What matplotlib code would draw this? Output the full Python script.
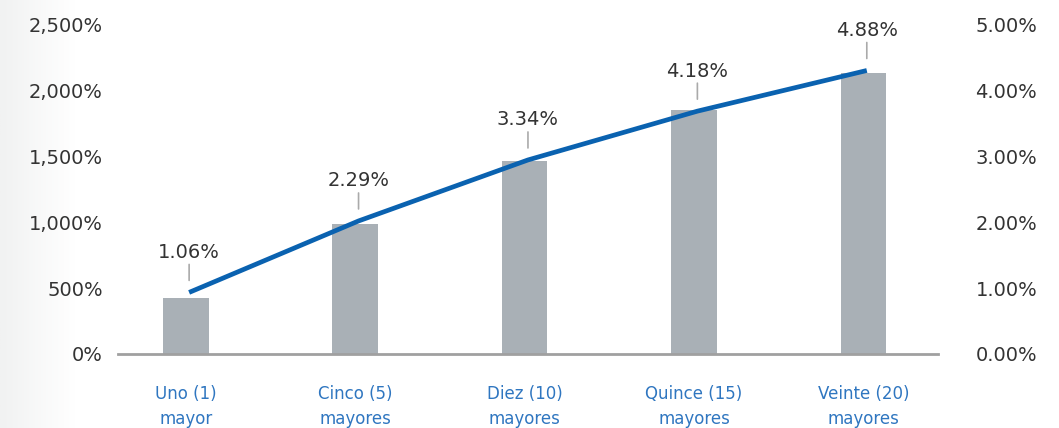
import numpy as np
import matplotlib
matplotlib.use("Agg")
import matplotlib.pyplot as plt
from matplotlib.ticker import FuncFormatter
from matplotlib.colors import LinearSegmentedColormap

categories = ["Uno (1)\nmayor", "Cinco (5)\nmayores", "Diez (10)\nmayores",
              "Quince (15)\nmayores", "Veinte (20)\nmayores"]
bar_values = [425, 985, 1465, 1850, 2130]          # left axis, %
line_values = [1.06, 2.29, 3.34, 4.18, 4.88]       # labelled line, %
left_ticks = [0, 500, 1000, 1500, 2000, 2500]
right_ticks = [0, 1, 2, 3, 4, 5]

BAR = "#a9b0b6"
LINE = "#0a62b0"
CAT = "#2f76c0"
TXT = "#333333"

fig = plt.figure(figsize=(10.59, 4.28), dpi=100)

# faint grey wash on the left edge
bg = fig.add_axes([0, 0, 1, 1], zorder=-10)
grad = np.clip(np.linspace(0, 1, 512) / 0.07, 0, 1)
bg.imshow(np.vstack([grad, grad]), aspect="auto",
          cmap=LinearSegmentedColormap.from_list("g", ["#f1f2f2", "#ffffff"]),
          extent=[0, 1, 0, 1])
bg.axis("off")

ax = fig.add_axes([0.1114, 0.1729, 0.7743, 0.771])
ax.patch.set_alpha(0)
x = np.arange(len(categories))
ax.bar(x, bar_values, width=0.27, color=BAR, zorder=2)
ax.set_xlim(-0.40, 4.44)
ax.set_ylim(0, 2500)
ax.set_yticks(left_ticks)
ax.yaxis.set_major_formatter(FuncFormatter(lambda v, p: f"{int(v):,}%"))
ax.set_xticks(x)
ax.set_xticklabels(categories, color=CAT, fontsize=12, linespacing=1.55)
ax.tick_params(axis="x", length=0, pad=22)
ax.tick_params(axis="y", length=0, pad=11, labelsize=14, labelcolor=TXT)
for s in ["top", "right", "left"]:
    ax.spines[s].set_visible(False)
ax.spines["bottom"].set_color("#a0a0a0")
ax.spines["bottom"].set_linewidth(2)

ax2 = ax.twinx()
ax2.set_ylim(0, 5)
ax2.set_yticks(right_ticks)
ax2.yaxis.set_major_formatter(FuncFormatter(lambda v, p: f"{v:.2f}%"))
ax2.tick_params(axis="y", length=0, pad=27, labelsize=14, labelcolor=TXT)
for s in ax2.spines.values():
    s.set_visible(False)

# line lives on its own hidden scale
ax3 = ax.twinx()
ax3.set_ylim(0, 5.68)
ax3.axis("off")
lx = x + 0.02
ax3.plot(lx, line_values, color=LINE, linewidth=3.4, solid_capstyle="butt", zorder=5)
for xi, v in zip(lx, line_values):
    ax3.annotate(f"{v:.2f}%", xy=(xi, v), xytext=(0, 40), textcoords="offset pixels",
                 ha="center", va="center", fontsize=14, color=TXT)
    # leader tick between label and line
    ax3.annotate("", xy=(xi, v), xytext=(0, 28), textcoords="offset pixels",
                 arrowprops=dict(arrowstyle="-", color="#aaaaaa", lw=1.2,
                                 shrinkA=0, shrinkB=12 * 0.72))

fig.savefig("out.png", dpi=100)
